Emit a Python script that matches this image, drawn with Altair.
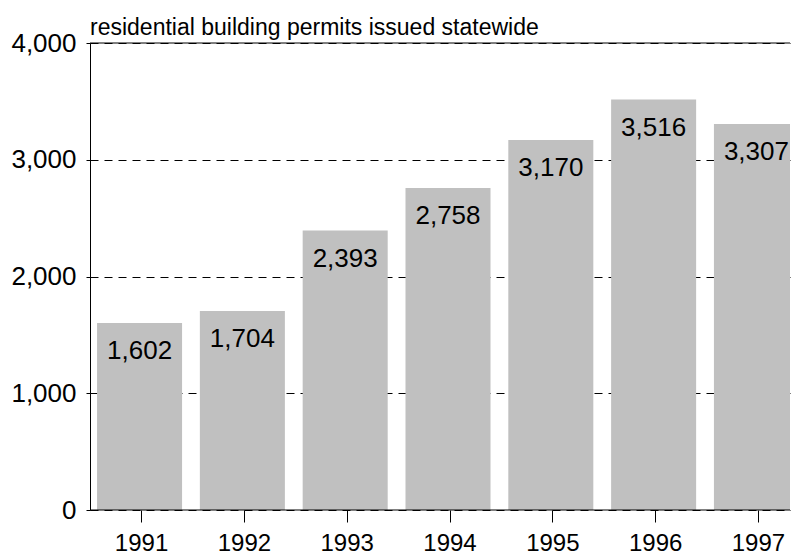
import altair as alt
import pandas as pd

years = ["1991", "1992", "1993", "1994", "1995", "1996", "1997"]
permits = [1602, 1704, 2393, 2758, 3170, 3516, 3307]
y_ticks = [0, 1000, 2000, 3000, 4000]
frame_lines = [0, 4000]
title_text = "residential building permits issued statewide"

df = pd.DataFrame({"year": years, "permits": permits})
lines_df = pd.DataFrame({"level": frame_lines})
FONT = "Liberation Sans"

x_enc = alt.X(
    "year:O",
    sort=years,
    scale=alt.Scale(paddingInner=0.173, paddingOuter=0.088, range=[0, 720]),
    axis=alt.Axis(
        title=None, labelAngle=0, labelFontSize=24, labelFont=FONT,
        labelColor="black", tickSize=12, tickColor="black", domain=False,
        grid=False, labelPadding=9,
    ),
)

y_enc = alt.Y(
    "permits:Q",
    stack=None,
    scale=alt.Scale(domain=[0, 4000], nice=False),
    axis=alt.Axis(
        title=None, values=y_ticks, format=",d", labelFontSize=26,
        labelFont=FONT, labelColor="black", tickSize=4, tickColor="black",
        labelPadding=10, domain=True, domainColor="black", grid=True,
        gridColor="black", gridDash=[8, 6], gridWidth=1, gridOpacity=1,
    ),
)

bars = alt.Chart(df).mark_bar(
    color="#c0c0c0", xOffset=-2, y2Offset=-3, clip=True
).encode(x=x_enc, y=y_enc)

labels = alt.Chart(df).mark_text(
    baseline="alphabetic", dy=36, dx=-2, fontSize=26, font=FONT, color="black"
).encode(
    x=alt.X("year:O", sort=years),
    y=alt.Y("permits:Q"),
    text=alt.Text("permits:Q", format=","),
)

frame = alt.Chart(lines_df).mark_rule(color="black", strokeWidth=1).encode(
    y=alt.Y("level:Q")
)

chart = (
    alt.layer(bars, frame, labels)
    .properties(
        width=783,
        height=547,
        autosize=alt.AutoSizeParams(type="fit", contains="padding"),
        title=alt.TitleParams(
            title_text, anchor="start", fontSize=23, font=FONT,
            fontWeight="normal", color="black", offset=-10, frame="group",
        ),
        padding={"left": 2, "top": 9, "right": 0, "bottom": 0},
    )
    .configure_view(stroke=None)
)

chart.save("out.html", embed_options={"renderer": "svg", "actions": False})
